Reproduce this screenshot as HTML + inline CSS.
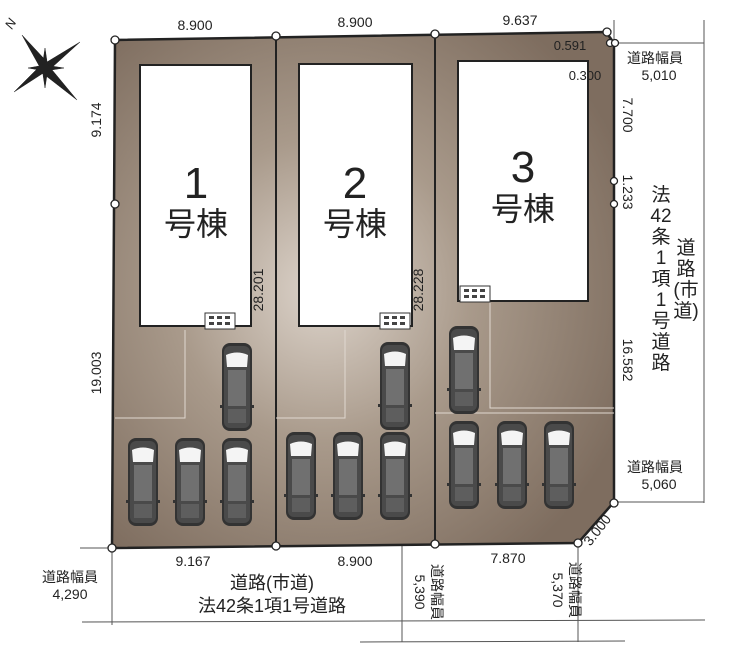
<!DOCTYPE html>
<html><head><meta charset="utf-8"><style>
html,body{margin:0;padding:0;background:#fff;}
svg{display:block;}
text{font-family:"Liberation Sans","Noto Sans CJK JP",sans-serif;fill:#222;}
</style></head><body>
<svg width="729" height="649" viewBox="0 0 729 649" xmlns="http://www.w3.org/2000/svg">
<defs>
<radialGradient id="g" cx="0.42" cy="0.5" r="0.65">
<stop offset="0" stop-color="#ddd4cb"/><stop offset="0.45" stop-color="#a99a8b"/><stop offset="1" stop-color="#7e6d5f"/>
</radialGradient>
<symbol id="car" viewBox="0 0 34 88">
<rect x="0" y="62" width="34" height="3" fill="#333"/>
<rect x="2" y="0" width="30" height="88" rx="8" fill="#333"/>
<rect x="4" y="3" width="26" height="82" rx="6" fill="#4a4a4a"/>
<path d="M6 12 Q17 7 28 12 L27 24 L7 24 Z" fill="#f4f4f4"/>
<rect x="8" y="27" width="18" height="36" fill="#707070"/>
<rect x="8" y="66" width="18" height="14" fill="#5e5e5e"/>
</symbol>
<g id="vent"><rect width="30" height="16" fill="#fff" stroke="#333"/><g fill="#444"><rect x="4" y="3" width="5" height="3"/><rect x="12" y="3" width="5" height="3"/><rect x="20" y="3" width="5" height="3"/><rect x="4" y="9" width="5" height="3"/><rect x="12" y="9" width="5" height="3"/><rect x="20" y="9" width="5" height="3"/></g></g>
</defs>
<g stroke="#555" stroke-width="1" fill="none">
<line x1="614" y1="20" x2="614" y2="503"/>
<line x1="704" y1="20" x2="704" y2="503"/>
<line x1="615" y1="43" x2="704" y2="43"/>
<line x1="614" y1="502" x2="704" y2="502"/>
<line x1="80" y1="548" x2="112" y2="548"/>
<line x1="112" y1="548" x2="112" y2="625"/>
<line x1="82" y1="622" x2="705" y2="620"/>
<line x1="360" y1="642" x2="625" y2="641"/>
<line x1="402" y1="545" x2="402" y2="642"/>
<line x1="578" y1="543" x2="578" y2="642"/>
</g>
<path d="M115 40 L606 32 L614 43 L614 502 L578 543 L112 548 Z" fill="url(#g)" stroke="#222" stroke-width="2.5"/>
<line x1="276" y1="36" x2="276" y2="546" stroke="#222" stroke-width="2"/>
<line x1="435" y1="34" x2="435" y2="544" stroke="#222" stroke-width="2"/>
<g stroke="#e0d8d0" stroke-width="1" fill="none">
<path d="M115 418 H185 V330"/><path d="M276 418 H345 V330"/>
<path d="M490 300 V408 H614"/><path d="M435 413 H614"/>
</g>
<g fill="#fff" stroke="#222" stroke-width="2">
<rect x="140" y="65" width="111" height="261"/>
<rect x="299" y="64" width="113" height="262"/>
<rect x="458" y="61" width="130" height="240"/>
</g>
<use href="#vent" x="205" y="313"/><use href="#vent" x="380" y="313"/><use href="#vent" x="460" y="286"/>
<use href="#car" x="220" y="343" width="34" height="88"/>
<use href="#car" x="126" y="438" width="34" height="88"/>
<use href="#car" x="173" y="438" width="34" height="88"/>
<use href="#car" x="220" y="438" width="34" height="88"/>
<use href="#car" x="378" y="342" width="34" height="88"/>
<use href="#car" x="284" y="432" width="34" height="88"/>
<use href="#car" x="331" y="432" width="34" height="88"/>
<use href="#car" x="378" y="432" width="34" height="88"/>
<use href="#car" x="447" y="326" width="34" height="88"/>
<use href="#car" x="447" y="421" width="34" height="88"/>
<use href="#car" x="495" y="421" width="34" height="88"/>
<use href="#car" x="542" y="421" width="34" height="88"/>
<g fill="#fff" stroke="#222" stroke-width="1.3">
<circle cx="115" cy="40" r="4"/><circle cx="276" cy="36" r="4"/><circle cx="435" cy="34" r="4"/><circle cx="607" cy="32" r="4"/>
<circle cx="610" cy="43" r="3.5"/><circle cx="615" cy="43" r="3.5"/>
<circle cx="614" cy="181" r="3.5"/><circle cx="614" cy="204" r="3.5"/>
<circle cx="115" cy="204" r="4"/>
<circle cx="112" cy="548" r="4"/><circle cx="276" cy="546" r="4"/><circle cx="435" cy="544" r="4"/><circle cx="578" cy="543" r="4"/><circle cx="614" cy="503" r="4"/>
</g>
<g fill="#222" stroke="#222" stroke-width="0.5">
<polygon points="22,35 49,64 42,71"/><polygon points="77,100 41,72 48,65"/>
<polygon points="80,42 48,71 42,65"/><polygon points="14,92 42,64 48,70"/>
<polygon points="45,48 48,68 42,68"/><polygon points="45,88 42,68 48,68"/>
<polygon points="28,68 45,65 45,71"/><polygon points="64,68 45,65 45,71"/>
</g>
<text x="12" y="30" font-size="13" transform="rotate(-60 12 30)" font-style="italic">N</text>
<g font-size="14" text-anchor="middle">
<text x="195" y="30">8.900</text><text x="355" y="27">8.900</text><text x="520" y="25">9.637</text>
<text x="570" y="50" font-size="13">0.591</text><text x="585" y="80" font-size="13">0.300</text>
<text x="655" y="63" font-size="14">道路幅員</text><text x="659" y="80" font-size="14">5,010</text>
<text x="655" y="472" font-size="14">道路幅員</text><text x="659" y="489" font-size="14">5,060</text>
<text x="193" y="566">9.167</text><text x="355" y="566">8.900</text><text x="508" y="563">7.870</text>
<text x="70" y="582" font-size="14">道路幅員</text><text x="70" y="599" font-size="14">4,290</text>
<text x="272" y="589" font-size="18">道路(市道)</text><text x="272" y="612" font-size="18">法42条1項1号道路</text>
<text transform="translate(101 120) rotate(-90)">9.174</text>
<text transform="translate(101 373) rotate(-90)">19.003</text>
<text transform="translate(263 290) rotate(-90)">28.201</text>
<text transform="translate(423 290) rotate(-90)">28.228</text>
<text transform="translate(623 115) rotate(90)">7.700</text>
<text transform="translate(623 192) rotate(90)">1.233</text>
<text transform="translate(623 360) rotate(90)">16.582</text>
<text transform="translate(601 533) rotate(-52)">3.000</text>
<text transform="translate(432 592) rotate(90)" font-size="14">道路幅員</text>
<text transform="translate(415 592) rotate(90)" font-size="14">5,390</text>
<text transform="translate(570 590) rotate(90)" font-size="14">道路幅員</text>
<text transform="translate(553 590) rotate(90)" font-size="14">5,370</text>
</g>
<g font-size="44" text-anchor="middle">
<text x="196" y="198">1</text><text x="355" y="198">2</text><text x="523" y="182">3</text>
</g>
<g font-size="32" text-anchor="middle">
<text x="196" y="235">号棟</text><text x="355" y="235">号棟</text><text x="523" y="220">号棟</text>
</g>
<g font-size="19" text-anchor="middle">
<text x="661" y="201">法</text><text x="661" y="222">42</text><text x="661" y="243">条</text><text x="661" y="264">1</text><text x="661" y="285">項</text><text x="661" y="306">1</text><text x="661" y="327">号</text><text x="661" y="348">道</text><text x="661" y="369">路</text>
<text x="686" y="254">道</text><text x="686" y="275">路</text><text x="686" y="296">(市</text><text x="686" y="317">道)</text>
</g>
</svg>
</body></html>
